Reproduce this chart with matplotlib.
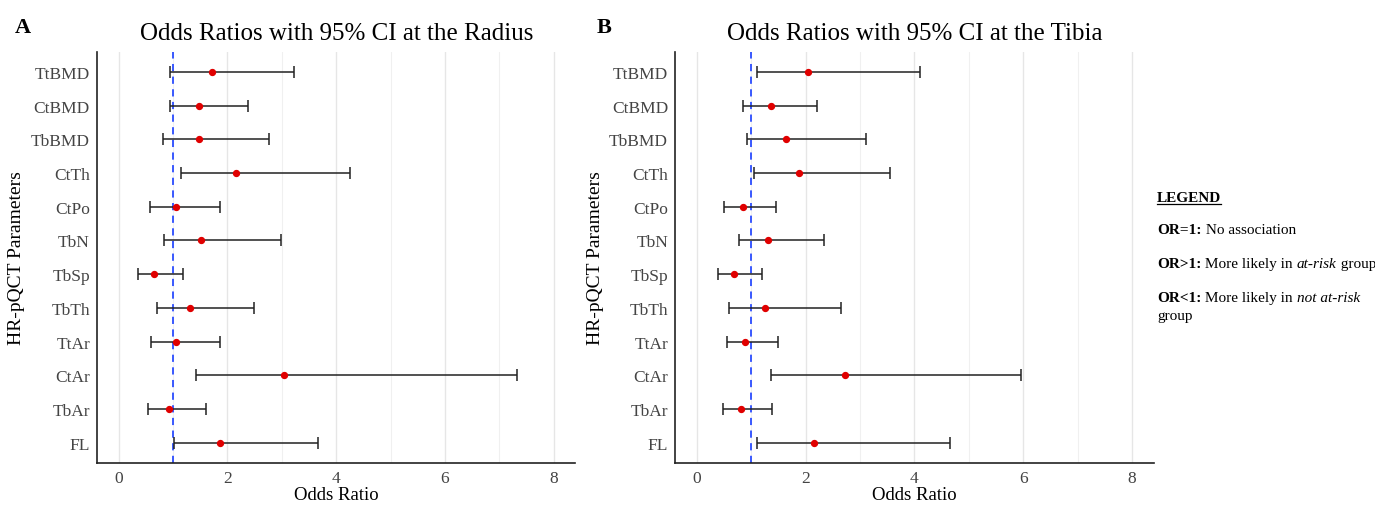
import numpy as np
import matplotlib
matplotlib.use("Agg")
import matplotlib.pyplot as plt
from matplotlib.lines import Line2D

plt.rcParams["font.family"] = ["Liberation Serif", "DejaVu Serif"]

params = ["TtBMD", "CtBMD", "TbBMD", "CtTh", "CtPo", "TbN",
          "TbSp", "TbTh", "TtAr", "CtAr", "TbAr", "FL"]

# radius
rad_or = [1.71, 1.48, 1.48, 2.15, 1.05, 1.52, 0.65, 1.31, 1.05, 3.04, 0.92, 1.86]
rad_lo = [0.95, 0.95, 0.81, 1.15, 0.58, 0.83, 0.35, 0.71, 0.60, 1.42, 0.54, 1.02]
rad_hi = [3.22, 2.38, 2.76, 4.25, 1.86, 2.99, 1.19, 2.48, 1.86, 7.32, 1.61, 3.67]

# tibia
tib_or = [2.05, 1.36, 1.64, 1.88, 0.85, 1.31, 0.69, 1.26, 0.89, 2.73, 0.81, 2.16]
tib_lo = [1.10, 0.84, 0.92, 1.05, 0.50, 0.78, 0.38, 0.59, 0.56, 1.36, 0.48, 1.10]
tib_hi = [4.10, 2.21, 3.11, 3.56, 1.46, 2.33, 1.19, 2.65, 1.50, 5.97, 1.38, 4.65]


def forest(ax, ors, lo, hi, title):
    y = np.arange(len(params))
    ors = np.array(ors)
    err = [ors - np.array(lo), np.array(hi) - ors]
    ax.errorbar(ors, y, xerr=err, fmt="none", ecolor="#222222",
                elinewidth=1.1, capsize=4, capthick=1.1, zorder=2)
    ax.scatter(ors, y, color="#e00000", s=18, zorder=3)
    ax.axvline(1, color="#2a4cff", linestyle=(0, (4, 3)), linewidth=1.3, zorder=1)
    ax.set_xlim(-0.4, 8.4)
    ax.set_ylim(len(params) - 0.4, -0.6)
    ax.set_yticks(y)
    ax.set_yticklabels(params)
    ax.set_xticks([0, 2, 4, 6, 8])
    ax.set_xticks([1, 3, 5, 7], minor=True)
    ax.grid(axis="x", which="major", color="#e6e6e6", linewidth=1.0)
    ax.grid(axis="x", which="minor", color="#f0f0f0", linewidth=0.8)
    ax.set_axisbelow(True)
    ax.tick_params(axis="both", which="both", length=0, labelsize=12.5,
                   labelcolor="#444444", pad=5)
    for s in ["top", "right"]:
        ax.spines[s].set_visible(False)
    for s in ["left", "bottom"]:
        ax.spines[s].set_linewidth(1.2)
        ax.spines[s].set_color("#222222")
    ax.set_title(title, fontsize=18, pad=9)
    ax.set_xlabel("Odds Ratio", fontsize=13.5, labelpad=0)
    ax.set_ylabel("HR-pQCT Parameters", fontsize=14, labelpad=4)


fig = plt.figure(figsize=(13.75, 5.06), dpi=100)
ax1 = fig.add_axes([0.0705, 0.083, 0.348, 0.813])
ax2 = fig.add_axes([0.491, 0.083, 0.348, 0.813])
forest(ax1, rad_or, rad_lo, rad_hi, "Odds Ratios with 95% CI at the Radius")
forest(ax2, tib_or, tib_lo, tib_hi, "Odds Ratios with 95% CI at the Tibia")

fig.text(0.011, 0.935, "A", fontsize=16, fontweight="bold")
fig.text(0.434, 0.935, "B", fontsize=16, fontweight="bold")

# legend box text
fig.canvas.draw()
renderer = fig.canvas.get_renderer()
W, H = fig.bbox.width, fig.bbox.height


def rich(x, y, pieces, size=11):
    for txt, weight, style in pieces:
        t = fig.text(x, y, txt, fontsize=size, fontweight=weight,
                     fontstyle=style, va="baseline")
        bb = t.get_window_extent(renderer)
        x += bb.width / W
    return x


lx = 1157 / 1375
leg = fig.text(lx, 1 - 202 / 506, "LEGEND", fontsize=11, fontweight="bold", va="baseline")
bb = leg.get_window_extent(renderer)
fig.add_artist(Line2D([lx, lx + bb.width / W], [1 - 205 / 506] * 2,
                      color="black", linewidth=0.9))
rich(lx, 1 - 234 / 506, [("OR=1:", "bold", "normal"), (" No association", "normal", "normal")])
rich(lx, 1 - 268 / 506, [("OR>1:", "bold", "normal"), (" More likely in ", "normal", "normal"),
                         ("at-risk", "normal", "italic"), (" group", "normal", "normal")])
rich(lx, 1 - 302 / 506, [("OR<1:", "bold", "normal"), (" More likely in ", "normal", "normal"),
                         ("not at-risk", "normal", "italic")])
rich(lx, 1 - 320 / 506, [("group", "normal", "normal")])

fig.savefig("out.png", dpi=100)
